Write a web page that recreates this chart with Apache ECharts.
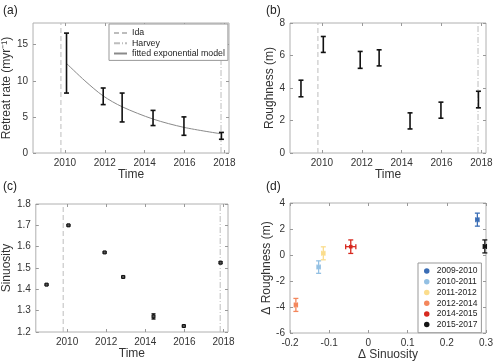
<!DOCTYPE html>
<html>
<head>
<meta charset="utf-8">
<script src="https://cdn.jsdelivr.net/npm/echarts@6/dist/echarts.min.js"></script>
<style>
html, body { margin: 0; background: #fff; }
#chart { width: 500px; height: 363px; }
</style>
</head>
<body>
<div id="chart"></div>
<script>
// storm dates and x ticks (decimal years)
const idaYear = 2009.8;
const harveyYear = 2017.83;
const timeTicks = [2010, 2012, 2014, 2016, 2018];

// survey dates
const surveyYears = [2008.95, 2010.07, 2011.92, 2012.87, 2014.42, 2015.97, 2017.85];

// (a) retreat rate
const retreatYears = [2010.08, 2011.92, 2012.87, 2014.42, 2015.97, 2017.85];
const retreatLow = [8.3, 6.7, 4.3, 3.8, 2.45, 1.9];
const retreatHigh = [16.6, 9.0, 8.3, 5.9, 5.0, 2.85];
const fitYears = [2010.08, 2011.0, 2011.92, 2012.87, 2014.42, 2015.97, 2017.85];
const fitValues = [12.4, 10.0, 7.9, 6.4, 4.7, 3.55, 2.65];

// (b) roughness
const roughLow = [3.46, 6.19, 5.21, 5.36, 1.48, 2.14, 2.78];
const roughHigh = [4.48, 7.17, 6.25, 6.35, 2.47, 3.13, 3.8];

// (c) sinuosity
const sinuosity = [1.422, 1.700, 1.573, 1.458, 1.273, 1.228, 1.525];
const sinuosityErr = [0.003, 0.003, 0.003, 0.003, 0.012, 0.003, 0.004];

// (d) changes between surveys
const periods = ['2009-2010', '2010-2011', '2011-2012', '2012-2014', '2014-2015', '2015-2017'];
const periodColors = ['#3a6db5', '#93c0e3', '#fbdd8c', '#f4875c', '#d7291f', '#151515'];
const dSinuosity = [0.278, -0.127, -0.115, -0.185, -0.045, 0.297];
const dSinuosityErr = [0.004, 0.004, 0.004, 0.004, 0.013, 0.004];
const dRoughness = [2.72, -0.93, 0.13, -3.84, 0.64, 0.66];
const dRoughnessErr = [0.5, 0.48, 0.5, 0.5, 0.52, 0.5];

const font = 'Liberation Sans';
const textColor = '#333';
const frameColor = '#b0b0b0';
const stormColor = '#bdbdbd';
const fitColor = '#8a8a8a';

const chart = echarts.init(document.getElementById('chart'));

// vertical bar with caps, data = [x, lo, hi]; optional centre square
function errorBar(cap, color, width, box) {
    return function (params, api) {
        const x = api.value(0);
        const top = api.coord([x, api.value(2)]);
        const bot = api.coord([x, api.value(1)]);
        const style = { stroke: color, lineWidth: width };
        const children = [
            { type: 'line', shape: { x1: top[0], y1: top[1], x2: bot[0], y2: bot[1] }, style: style },
            { type: 'line', shape: { x1: top[0] - cap, y1: top[1], x2: top[0] + cap, y2: top[1] }, style: style },
            { type: 'line', shape: { x1: bot[0] - cap, y1: bot[1], x2: bot[0] + cap, y2: bot[1] }, style: style }
        ];
        if (box) {
            const c = api.coord([x, (api.value(1) + api.value(2)) / 2]);
            children.push({
                type: 'rect', shape: { x: c[0] - box / 2, y: c[1] - box / 2, width: box, height: box },
                style: { fill: '#555', stroke: color, lineWidth: 1 }
            });
        }
        return { type: 'group', children: children };
    };
}

// cross with caps, data = [x, y, xerr, yerr]
function crossBar(color) {
    return function (params, api) {
        const x = api.value(0), y = api.value(1), ex = api.value(2), ey = api.value(3);
        const c = api.coord([x, y]);
        const t = api.coord([x, y + ey]);
        const b = api.coord([x, y - ey]);
        const l = api.coord([x - ex, y]);
        const r = api.coord([x + ex, y]);
        const cap = 2.5;
        const style = { stroke: color, lineWidth: 1.3 };
        return {
            type: 'group',
            children: [
                { type: 'line', shape: { x1: t[0], y1: t[1], x2: b[0], y2: b[1] }, style: style },
                { type: 'line', shape: { x1: t[0] - cap, y1: t[1], x2: t[0] + cap, y2: t[1] }, style: style },
                { type: 'line', shape: { x1: b[0] - cap, y1: b[1], x2: b[0] + cap, y2: b[1] }, style: style },
                { type: 'line', shape: { x1: l[0], y1: l[1], x2: r[0], y2: r[1] }, style: style },
                { type: 'line', shape: { x1: l[0], y1: l[1] - cap, x2: l[0], y2: l[1] + cap }, style: style },
                { type: 'line', shape: { x1: r[0], y1: r[1] - cap, x2: r[0], y2: r[1] + cap }, style: style },
                { type: 'rect', shape: { x: c[0] - 1.8, y: c[1] - 1.8, width: 3.6, height: 3.6 }, style: { fill: color } }
            ]
        };
    };
}

function valueAxis(gridIndex, name, min, max, ticks, fmt, gap) {
    return {
        type: 'value', gridIndex: gridIndex, min: min, max: max,
        name: name, nameLocation: 'middle', nameGap: gap,
        nameTextStyle: { fontFamily: font, fontSize: 12, color: textColor },
        axisLine: { show: false, onZero: false },
        axisTick: { inside: true, length: 3, lineStyle: { color: '#999' }, customValues: ticks },
        axisLabel: {
            fontFamily: font, fontSize: 10, color: textColor, margin: 5, customValues: ticks,
            formatter: fmt
        },
        splitLine: { show: false }
    };
}

// box-side copy of an axis: ticks only
function mirrorAxis(axis, position) {
    return {
        type: 'value', gridIndex: axis.gridIndex, min: axis.min, max: axis.max, position: position,
        axisLine: { show: false, onZero: false },
        axisTick: axis.axisTick,
        axisLabel: { show: false },
        splitLine: { show: false }
    };
}

const yearFmt = v => String(Math.round(v));
const fixed = d => (v => (Math.abs(v) < 1e-9 ? '0' : v.toFixed(d)));

function timeAxis(gridIndex) {
    return valueAxis(gridIndex, 'Time', 2008.4, 2018.23, timeTicks, yearFmt, 16);
}

function stormLines(gridIndex, yMin, yMax) {
    return [
        {
            name: 'Ida', type: 'line', xAxisIndex: gridIndex, yAxisIndex: gridIndex,
            data: [[idaYear, yMin], [idaYear, yMax]], symbol: 'none', silent: true,
            itemStyle: { color: stormColor },
            lineStyle: { color: stormColor, width: 1, type: [5, 3] }, z: 1
        },
        {
            name: 'Harvey', type: 'line', xAxisIndex: gridIndex, yAxisIndex: gridIndex,
            data: [[harveyYear, yMin], [harveyYear, yMax]], symbol: 'none', silent: true,
            itemStyle: { color: stormColor },
            lineStyle: { color: stormColor, width: 1, type: [6, 2, 1, 2] }, z: 1
        }
    ];
}

const gridBase = { show: true, borderColor: frameColor, borderWidth: 1, backgroundColor: 'transparent' };

const series = [];
series.push(...stormLines(0, 0, 18));
series.push({
    name: 'fitted exponential model', type: 'line', xAxisIndex: 0, yAxisIndex: 0,
    data: fitYears.map((y, i) => [y, fitValues[i]]), smooth: 0.3, symbol: 'none',
    itemStyle: { color: fitColor },
    lineStyle: { color: fitColor, width: 1 }, z: 2
});
series.push({
    type: 'custom', xAxisIndex: 0, yAxisIndex: 0, renderItem: errorBar(2.5, '#111', 1.6),
    encode: { x: 0, y: [1, 2] },
    data: retreatYears.map((y, i) => [y, retreatLow[i], retreatHigh[i]]), z: 3
});
series.push(...stormLines(1, 0, 8));
series.push({
    type: 'custom', xAxisIndex: 1, yAxisIndex: 1, renderItem: errorBar(2.5, '#111', 1.6),
    encode: { x: 0, y: [1, 2] },
    data: surveyYears.map((y, i) => [y, roughLow[i], roughHigh[i]]), z: 3
});
series.push(...stormLines(2, 1.2, 1.8));
series.push({
    type: 'custom', xAxisIndex: 2, yAxisIndex: 2, renderItem: errorBar(2, '#111', 1.4, 3),
    encode: { x: 0, y: [1, 2] },
    data: surveyYears.map((y, i) => [y, sinuosity[i] - sinuosityErr[i], sinuosity[i] + sinuosityErr[i]]), z: 3
});
periods.forEach((p, i) => {
    series.push({
        name: p, type: 'custom', xAxisIndex: 3, yAxisIndex: 3,
        renderItem: crossBar(periodColors[i]),
        encode: { x: 0, y: 1 },
        itemStyle: { color: periodColors[i] },
        data: [[dSinuosity[i], dRoughness[i], dSinuosityErr[i], dRoughnessErr[i]]], z: 3
    });
});

const panelTitle = (text, left, top) => ({
    text: text, left: left, top: top, padding: 0,
    textStyle: { fontFamily: font, fontSize: 12, fontWeight: 'normal', color: '#222' }
});

const noSymbol = { opacity: 0 };

const xAxes = [
    timeAxis(0),
    timeAxis(1),
    timeAxis(2),
    valueAxis(3, 'Δ Sinuosity', -0.2, 0.3, [-0.2, -0.1, 0, 0.1, 0.2, 0.3], fixed(1), 16)
];
const yAxes = [
    valueAxis(0, 'Retreat rate (myr⁻¹)', 0, 18, [0, 5, 10, 15], fixed(0), 14),
    valueAxis(1, 'Roughness (m)', 0, 8, [0, 2, 4, 6, 8], fixed(0), 12),
    valueAxis(2, 'Sinuosity', 1.2, 1.8, [1.2, 1.3, 1.4, 1.5, 1.6, 1.7, 1.8], fixed(1), 20),
    valueAxis(3, 'Δ Roughness (m)', -6, 4, [-6, -4, -2, 0, 2, 4], fixed(0), 12)
];

chart.setOption({
    animation: false,
    backgroundColor: '#fff',
    title: [
        panelTitle('(a)', 3, 5),
        panelTitle('(b)', 266, 5),
        panelTitle('(c)', 3, 181),
        panelTitle('(d)', 266, 181)
    ],
    legend: [
        {
            data: [
                { name: 'Ida', itemStyle: noSymbol },
                { name: 'Harvey', itemStyle: noSymbol },
                { name: 'fitted exponential model', itemStyle: noSymbol }
            ],
            orient: 'vertical', left: 109, top: 24, padding: [4, 3, 2, 4],
            itemWidth: 13, itemHeight: 8, itemGap: 0.5,
            backgroundColor: '#fff', borderColor: '#999', borderWidth: 1,
            textStyle: { fontFamily: font, fontSize: 8.8, color: '#222', lineHeight: 9.8 }
        },
        {
            data: periods.map(p => ({ name: p, icon: 'circle' })),
            orient: 'vertical', left: 418, top: 263, padding: [3, 4, 3, 6],
            itemWidth: 10, itemHeight: 5.5, itemGap: 0.5,
            backgroundColor: '#fff', borderColor: '#999', borderWidth: 1,
            textStyle: { fontFamily: font, fontSize: 8.5, color: '#222', lineHeight: 10.2 }
        }
    ],
    grid: [
        Object.assign({ left: 32, top: 23, width: 197, height: 130 }, gridBase),
        Object.assign({ left: 290, top: 23, width: 196, height: 130 }, gridBase),
        Object.assign({ left: 32, top: 204, width: 196, height: 128 }, gridBase),
        Object.assign({ left: 290, top: 203, width: 196, height: 130 }, gridBase)
    ],
    xAxis: xAxes.concat(xAxes.map(a => mirrorAxis(a, 'top'))),
    yAxis: yAxes.concat(yAxes.map(a => mirrorAxis(a, 'right'))),
    series: series
});
</script>
</body>
</html>
